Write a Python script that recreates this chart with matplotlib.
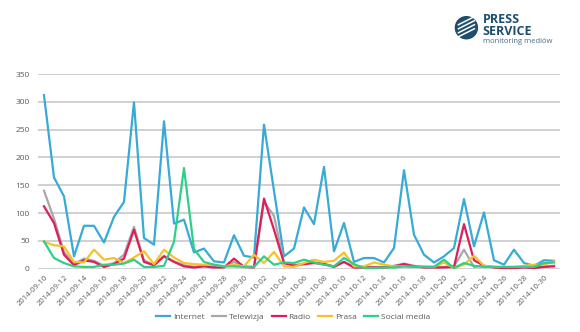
import pandas as pd
import matplotlib.pyplot as plt
from matplotlib.patches import Circle

plt.rcParams['font.family'] = ['Open Sans', 'DejaVu Sans']

# Dni od 2014-09-10 do 2014-10-31
daty = pd.date_range('2014-09-10', '2014-10-31').strftime('%Y-%m-%d').tolist()

internet = [312, 164, 130, 22, 77, 77, 47, 93, 120, 299,
            55, 43, 265, 81, 88, 29, 36, 13, 11, 60,
            23, 20, 259, 140, 22, 36, 110, 80, 183, 31,
            82, 12, 19, 19, 11, 37, 177, 61, 25, 11,
            22, 37, 125, 40, 101, 15, 7, 34, 10, 5,
            15, 14]
telewizja = [140, 90, 30, 8, 18, 14, 5, 10, 25, 75,
             15, 6, 23, 13, 6, 3, 5, 3, 3, 12,
             4, 3, 120, 95, 10, 6, 9, 11, 9, 4,
             12, 3, 3, 3, 3, 5, 9, 5, 3, 3,
             3, 4, 34, 3, 5, 3, 2, 2, 3, 2,
             4, 5]
radio = [112, 82, 25, 6, 15, 12, 3, 8, 18, 70,
         12, 6, 22, 12, 4, 2, 4, 2, 2, 18,
         3, 2, 126, 70, 10, 5, 8, 10, 8, 3,
         12, 2, 2, 2, 2, 4, 8, 4, 2, 2,
         2, 3, 80, 15, 5, 2, 1, 1, 2, 1,
         3, 4]
prasa = [48, 42, 40, 12, 11, 34, 16, 19, 10, 20,
         31, 8, 34, 20, 10, 8, 7, 7, 4, 7,
         4, 25, 10, 30, 4, 3, 10, 16, 12, 14,
         29, 4, 4, 11, 7, 4, 4, 3, 4, 3,
         11, 1, 7, 23, 5, 3, 3, 3, 5, 7,
         7, 13]
social = [49, 19, 10, 4, 3, 3, 7, 7, 9, 16,
          3, 3, 5, 48, 181, 35, 12, 7, 4, 4,
          3, 3, 22, 7, 11, 10, 16, 11, 7, 4,
          19, 8, 1, 1, 2, 2, 4, 3, 3, 3,
          16, 1, 10, 5, 3, 3, 3, 3, 3, 3,
          10, 11]

serie = [
    ('Internet', internet, '#38aad6'),
    ('Telewizja', telewizja, '#a8a8a8'),
    ('Radio', radio, '#dc1f5c'),
    ('Prasa', prasa, '#f6c228'),
    ('Social media', social, '#2fcf8a'),
]

fig = plt.figure(figsize=(5.8, 3.32), dpi=100)
ax = fig.add_axes([0.0655, 0.191, 0.9, 0.586])

x = list(range(len(daty)))
for naam, waarden, kleur in serie:
    ax.plot(x, waarden, color=kleur, lw=1.6, label=naam, clip_on=False)

ax.set_ylim(0, 350)
ax.set_xlim(-0.6, 51.6)
ax.set_yticks(range(0, 351, 50))
ax.yaxis.grid(True, color='#c4c4c4', lw=1.1)
ax.set_axisbelow(True)
for s in ax.spines.values():
    s.set_visible(False)
ax.tick_params(length=0, labelsize=6, colors='#595959', pad=6)

ax.set_xticks(x[::2])
ax.set_xticklabels(daty[::2], rotation=45, ha='right', rotation_mode='anchor',
                   fontsize=5.5)
ax.tick_params(axis='x', pad=4)

fig.legend(*ax.get_legend_handles_labels(), loc='center', bbox_to_anchor=(0.505, 0.045),
           ncol=5, frameon=False, fontsize=6, handlelength=1.7, handletextpad=0.3,
           columnspacing=0.9, labelcolor='#595959')

# Logo
logo = fig.add_axes([0.78, 0.85, 0.2, 0.13])
logo.set_xlim(0, 116)
logo.set_ylim(0, 43)
logo.axis('off')
logo.add_patch(Circle((14, 22), 11, color='#1d4e6e'))
for dy in (-5, -1, 3, 7):
    logo.plot([6, 22], [22 + dy - 4, 22 + dy + 4], color='white', lw=1.1)
logo.text(30, 30, 'PRESS', fontsize=9, fontweight='bold', color='#1d4e6e', va='center')
logo.text(30, 18, 'SERVICE', fontsize=9, fontweight='bold', color='#1d4e6e', va='center')
logo.text(31, 8, 'monitoring mediów', fontsize=5.5, color='#4a6f86', va='center')

fig.savefig('out.png', dpi=100, facecolor='white')
